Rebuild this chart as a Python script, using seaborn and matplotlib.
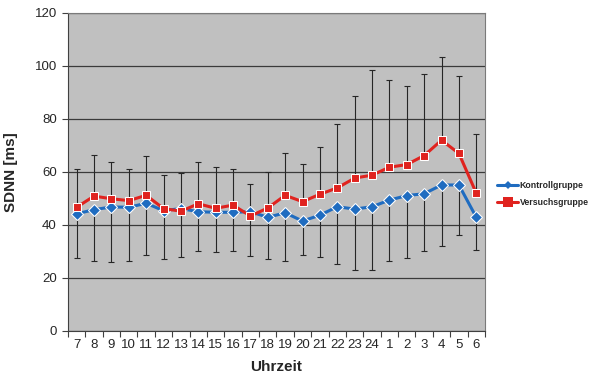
import numpy as np
import pandas as pd
import seaborn as sns
import matplotlib.pyplot as plt

# Uhrzeit categories (7 Uhr bis 6 Uhr)
hours = ['7', '8', '9', '10', '11', '12', '13', '14', '15', '16', '17', '18',
         '19', '20', '21', '22', '23', '24', '1', '2', '3', '4', '5', '6']

kontroll = [44.2, 45.8, 46.8, 46.7, 48.2, 45.4, 46.2, 45.0, 44.8, 44.8, 45.0, 42.9,
            44.6, 41.5, 43.7, 46.9, 46.0, 46.9, 49.4, 51.1, 51.8, 55.1, 55.1, 42.9]
versuch = [46.7, 50.9, 49.9, 49.2, 51.2, 46.2, 45.2, 48.0, 46.3, 47.5, 43.4, 46.4,
           51.2, 48.8, 51.6, 54.0, 57.7, 58.8, 61.8, 62.8, 66.2, 72.0, 67.0, 52.0]

# ends of the error bars
err_top = [61.0, 66.3, 63.8, 61.1, 66.0, 58.9, 59.7, 63.8, 61.8, 61.0, 55.5, 60.1,
           67.0, 63.1, 69.4, 78.2, 88.7, 98.4, 94.6, 92.6, 96.8, 103.3, 96.4, 74.5]
err_bottom = [27.4, 26.4, 26.0, 26.4, 28.7, 27.3, 27.8, 30.1, 29.7, 30.3, 28.2, 27.1,
              26.4, 28.6, 28.0, 25.2, 23.0, 23.1, 26.3, 27.7, 30.2, 32.0, 36.3, 30.5]

blue = '#1f6cc0'
red = '#e0231f'

sns.set_style('white')
plt.rcParams['font.family'] = ['Liberation Sans', 'DejaVu Sans']

pos = np.arange(len(hours))
df = pd.DataFrame({'pos': np.concatenate([pos, pos]),
                   'SDNN': kontroll + versuch,
                   'Gruppe': ['Kontrollgruppe'] * len(hours) + ['Versuchsgruppe'] * len(hours)})

fig = plt.figure(figsize=(6, 3.9), dpi=100)
ax = fig.add_axes([0.1133, 0.1513, 0.695, 0.8154])
ax.set_facecolor('#c0c0c0')

# error bars: up from Versuchsgruppe, down from Kontrollgruppe
up = np.array(err_top) - np.array(versuch)
down = np.array(kontroll) - np.array(err_bottom)
ax.errorbar(pos, versuch, yerr=[np.zeros(len(pos)), up], fmt='none',
            ecolor='#262626', elinewidth=0.8, capsize=2.2, capthick=0.8, zorder=2)
ax.errorbar(pos, kontroll, yerr=[down, np.zeros(len(pos))], fmt='none',
            ecolor='#262626', elinewidth=0.8, capsize=2.2, capthick=0.8, zorder=2)

sns.lineplot(data=df, x='pos', y='SDNN', hue='Gruppe', style='Gruppe',
             palette={'Kontrollgruppe': blue, 'Versuchsgruppe': red},
             markers={'Kontrollgruppe': 'D', 'Versuchsgruppe': 's'},
             dashes=False, linewidth=2.2, ax=ax, zorder=3)
for line, ms in zip(ax.lines[-2:], [4.5, 7]):
    line.set_markersize(ms)
    line.set_markeredgewidth(0)

ax.set_xlim(-0.5, len(hours) - 0.5)
ax.set_ylim(0, 120)
ax.set_yticks(range(0, 121, 20))
ax.yaxis.grid(True, color='#3a3a3a', linewidth=0.9)
ax.set_axisbelow(True)

# Excel-style: ticks between categories, labels in the middle
ax.set_xticks(np.arange(len(hours) + 1) - 0.5)
ax.set_xticklabels([])
ax.set_xticks(pos, minor=True)
ax.set_xticklabels(hours, minor=True, fontsize=9.5)
ax.tick_params(axis='x', which='major', length=4, color='#404040', direction='out', bottom=True)
ax.tick_params(axis='x', which='minor', length=0, pad=6)
ax.tick_params(axis='y', length=4, color='#404040', direction='out', left=True, labelsize=9.5, pad=4)

for side in ['top', 'right']:
    ax.spines[side].set_color('#7a7a7a')
for side in ['left', 'bottom']:
    ax.spines[side].set_color('#404040')

ax.set_xlabel('Uhrzeit', fontsize=11, fontweight='bold', labelpad=6)
ax.set_ylabel('SDNN [ms]', fontsize=11, fontweight='bold', labelpad=12)

handles, labels = ax.get_legend_handles_labels()
ax.legend(handles, labels, loc='center left', bbox_to_anchor=(1.0, 0.43), frameon=False,
          prop={'size': 6.3, 'weight': 'bold'}, handlelength=2.4, handletextpad=0.15,
          labelspacing=0.9, borderaxespad=1.0)

fig.savefig('out.png', dpi=100)
